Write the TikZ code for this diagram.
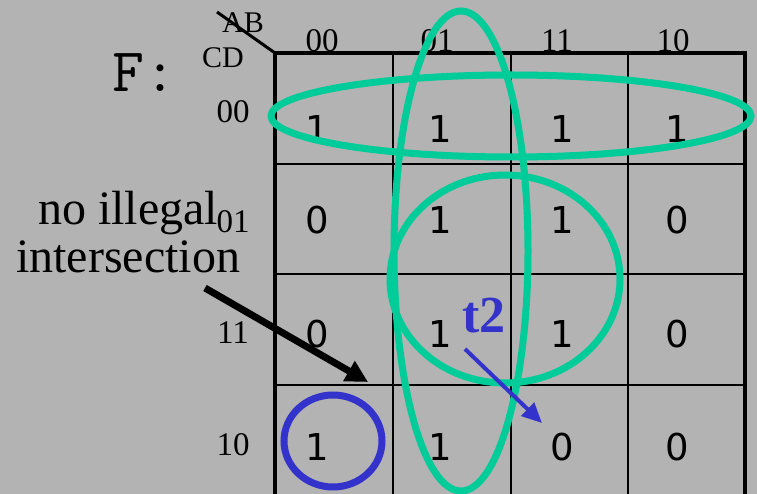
\documentclass[tikz,border=0pt]{standalone}
\usepackage{fontspec}
\setmainfont{Liberation Serif}
\newfontfamily\cellf{DejaVu Sans}
\usetikzlibrary{arrows.meta}
\definecolor{bgc}{HTML}{B3B3B3}
\definecolor{grn}{HTML}{00CC99}
\definecolor{blu}{HTML}{3333CC}
\tikzset{
  cell/.style={anchor=base,inner sep=0pt,font=\cellf\fontsize{37}{40}\selectfont},
  lab/.style={anchor=base,inner sep=0pt,font=\fontsize{33}{35}\selectfont},
  loop/.style={draw=grn,line width=7pt},
  grid/.style={line width=2pt},
}
\begin{document}
\begin{tikzpicture}[x=1pt,y=-1pt]
\fill[bgc] (0,0) rectangle (757,494);
\useasboundingbox (0,0) rectangle (757,494);
% grid
\foreach \x in {393,511,628} \draw[grid] (\x,53) -- (\x,496);
\foreach \y in {164,274,385} \draw[grid] (275,\y) -- (745,\y);
\draw[line width=3.5pt] (275,496) -- (275,53) -- (745,53) -- (745,496);
\coordinate (d1) at (217,12);
\coordinate (d2) at (275,53);
\draw[line width=3pt] (d1) -- (d2);
% labels
\node[anchor=base,inner sep=0pt,font=\ttfamily\fontsize{62}{64}\selectfont] (F) at (144,92) {F:};
\node[anchor=base,inner sep=0pt,font=\fontsize{30}{32}\selectfont] (AB) at (243,33) {AB};
\node[anchor=base,inner sep=0pt,font=\fontsize{30}{32}\selectfont] (CD) at (223,68) {CD};
\node[lab] (c00) at (322,52) {00};
\node[lab] (c01) at (437,52) {01};
\node[lab] (c11) at (557,52) {11};
\node[lab] (c10) at (673,52) {10};
\node[lab] (r00) at (233,123) {00};
\node[lab] (r01) at (233,233) {01};
\node[lab] (r11) at (233,343) {11};
\node[lab] (r10) at (233,455) {10};
% cells
\node[cell] (m00) at (317,143) {1};
\node[cell] (m01) at (440,143) {1};
\node[cell] (m11) at (562,143) {1};
\node[cell] (m10) at (677,143) {1};
\node[cell] (n00) at (317,234) {0};
\node[cell] (n01) at (440,234) {1};
\node[cell] (n11) at (562,234) {1};
\node[cell] (n10) at (677,234) {0};
\node[cell] (o00) at (317,347) {0};
\node[cell] (o01) at (440,347) {1};
\node[cell] (o11) at (562,347) {1};
\node[cell] (o10) at (677,347) {0};
\node[cell] (p00) at (317,460) {1};
\node[cell] (p01) at (440,460) {1};
\node[cell] (p11) at (562,460) {0};
\node[cell] (p10) at (677,460) {0};
% loops
\draw[loop] (511,116) ellipse [x radius=240pt, y radius=41pt];
\draw[loop] (461,251) ellipse [x radius=67pt, y radius=240pt];
\draw[loop] (505,279) ellipse [x radius=115pt, y radius=104pt];
\draw[draw=blu,line width=7pt] (333,441) ellipse [x radius=49pt, y radius=46pt];
% annotation
\node[align=center,inner sep=0pt,font=\fontsize{48}{48}\selectfont] (txt) at (128,232) {no illegal\\intersection};
\coordinate (a1) at (205,288);
\coordinate (a2) at (368,382);
\draw[line width=7pt,-{Triangle[length=22pt,width=22pt]}] (a1) -- (a2);
\node[anchor=base,inner sep=0pt,text=blu,font=\bfseries\fontsize{52}{52}\selectfont] (t2) at (484,332) {t2};
\coordinate (b1) at (465,349);
\coordinate (b2) at (542,423);
\draw[blu,line width=4pt,-{Triangle[length=20pt,width=18pt]}] (b1) -- (b2);
\end{tikzpicture}
\end{document}
